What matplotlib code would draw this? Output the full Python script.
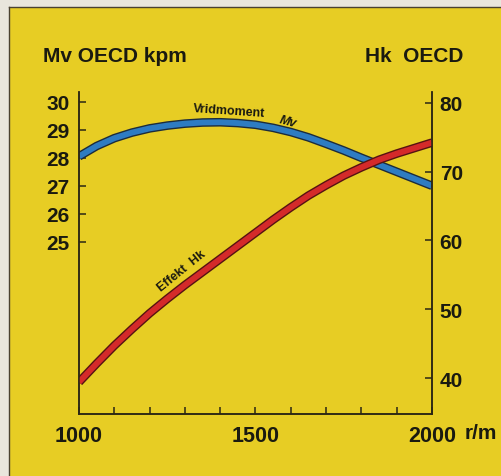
import matplotlib
matplotlib.use("Agg")
import matplotlib.pyplot as plt
import matplotlib.patheffects as pe
from matplotlib.patches import Rectangle
from matplotlib.lines import Line2D

# ---- data ----
rpm = [1000, 1050, 1100, 1150, 1200, 1250, 1300, 1350, 1400, 1450, 1500,
       1550, 1600, 1650, 1700, 1750, 1800, 1850, 1900, 1950, 2000]
mv_kpm = [28.05, 28.42, 28.70, 28.90, 29.05, 29.15, 29.22, 29.26, 29.27, 29.24, 29.18,
          29.07, 28.92, 28.73, 28.50, 28.26, 28.00, 27.75, 27.50, 27.25, 27.00]
hk = [39.4, 42.1, 44.7, 47.1, 49.4, 51.5, 53.5, 55.4, 57.3, 59.2, 61.1,
      63.0, 64.8, 66.5, 68.0, 69.4, 70.6, 71.7, 72.6, 73.4, 74.2]
x_ticks = list(range(1000, 2001, 100))
x_ticklabels = ["1000", "", "", "", "", "1500", "", "", "", "", "2000"]
mv_ticks = [25, 26, 27, 28, 29, 30]
hk_ticks = [40, 50, 60, 70, 80]

W, H = 501, 477
YELLOW = "#e7cd24"
PAPER = "#e9e6dc"
DARK = "#2b2614"
BLUE = "#2e7cc2"
BLUE_EDGE = "#1c2c3c"
RED = "#d42a2a"
RED_EDGE = "#561212"
TXT = "#1a1a10"

plt.rcParams["font.family"] = ["Liberation Sans", "DejaVu Sans"]
plt.rcParams["font.weight"] = "bold"

fig = plt.figure(figsize=(W / 100, H / 100), dpi=100, facecolor=PAPER)

# yellow card with a dark edge at top and left
fig.patches.append(Rectangle((9 / W, 0), 1 - 9 / W, 1 - 8 / H,
                             transform=fig.transFigure, facecolor=YELLOW,
                             edgecolor="none", zorder=-10))
fig.lines.append(Line2D([8.5 / W, 8.5 / W], [0, 1 - 7.5 / H], transform=fig.transFigure,
                        color="#4a4230", lw=1.0, zorder=-9))
fig.lines.append(Line2D([8.5 / W, 1], [1 - 7.5 / H, 1 - 7.5 / H], transform=fig.transFigure,
                        color="#4a4230", lw=1.0, zorder=-9))

ax = fig.add_axes([79 / W, 62 / H, 353 / W, 322 / H])
ax.set_facecolor("none")
ax2 = ax.twinx()
ax2.set_facecolor("none")

ax.set_xlim(1000, 2000)
ax.set_ylim(18.85, 30.35)
ax2.set_ylim(34.77, 81.55)

ax.plot(rpm, mv_kpm, color=BLUE, lw=4.2, solid_capstyle="butt", solid_joinstyle="round",
        path_effects=[pe.Stroke(linewidth=6.2, foreground=BLUE_EDGE), pe.Normal()])
ax2.plot(rpm, hk, color=RED, lw=4.2, solid_capstyle="butt", solid_joinstyle="round",
         path_effects=[pe.Stroke(linewidth=6.2, foreground=RED_EDGE), pe.Normal()])

for a in (ax, ax2):
    a.spines["top"].set_visible(False)
    for s in ("left", "right", "bottom"):
        a.spines[s].set_color(DARK)
        a.spines[s].set_linewidth(1.1)

ax.set_xticks(x_ticks)
ax.set_xticklabels(x_ticklabels)
ax.set_yticks(mv_ticks)
ax.set_yticklabels([str(t) for t in mv_ticks])
ax2.set_yticks(hk_ticks)
ax2.set_yticklabels([str(t) for t in hk_ticks])

ax.tick_params(axis="x", direction="in", length=5, width=1.1, color=DARK,
               pad=8, labelsize=15.5, labelcolor=TXT)
ax.tick_params(axis="y", direction="in", length=5, width=1.1, color=DARK,
               pad=7, labelsize=15, labelcolor=TXT)
ax2.tick_params(axis="y", direction="in", length=5, width=1.1, color=DARK,
                pad=5.5, labelsize=15, labelcolor=TXT)
for lab in ax.get_xticklabels() + ax.get_yticklabels() + ax2.get_yticklabels():
    lab.set_fontweight("bold")

# axis titles
fig.text(43 / W, 1 - 56.5 / H, "Mv OECD kpm", ha="left", va="center",
         fontsize=15, fontweight="bold", color=TXT)
fig.text(463 / W, 1 - 56.5 / H, "Hk  OECD", ha="right", va="center",
         fontsize=15, fontweight="bold", color=TXT)
fig.text(465 / W, 1 - 434 / H, "r/m", ha="left", va="center",
         fontsize=15, fontweight="bold", color=TXT)

# curve labels
ax2.text(1425, 78.8, "Vridmoment", ha="center", va="center", rotation=-4,
         fontsize=9, fontweight="bold", color=TXT)
ax2.text(1592, 77.3, "Mv", ha="center", va="center", rotation=-15,
         fontsize=9, fontweight="bold", style="italic", color=TXT)
ax2.text(1292, 55.6, "Effekt  Hk", ha="center", va="center", rotation=39,
         fontsize=9, fontweight="bold", color=TXT)

fig.savefig("out.png", dpi=100, facecolor=PAPER)
